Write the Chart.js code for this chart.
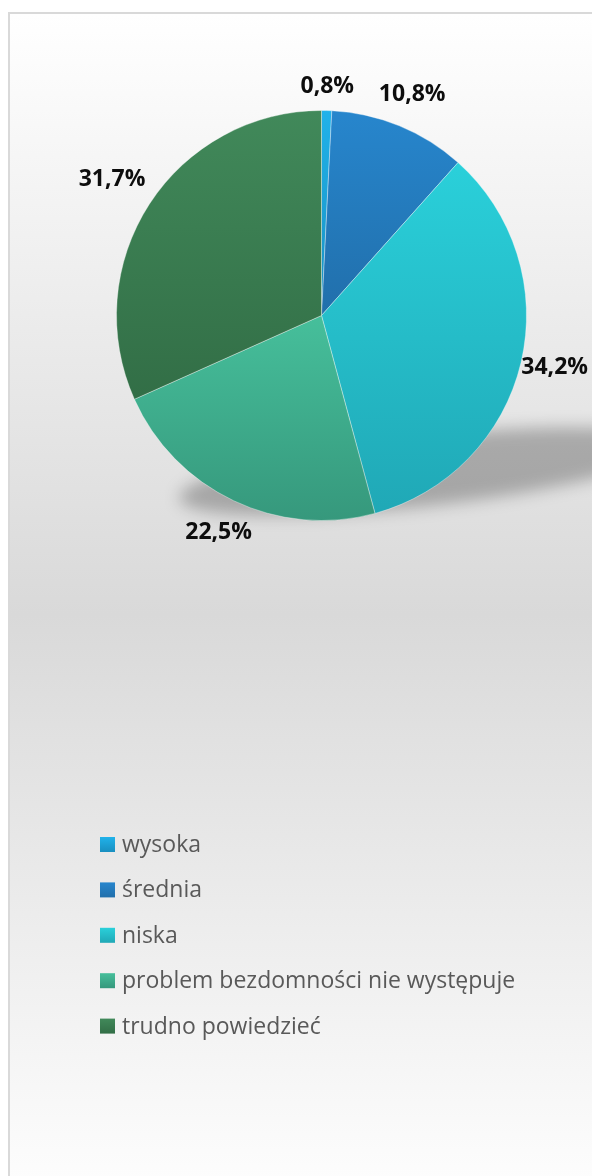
<!DOCTYPE html>
<html>
<head>
<meta charset="utf-8">
<script src="https://cdn.jsdelivr.net/npm/chart.js@4/dist/chart.umd.min.js"></script>
<style>
  html, body { margin: 0; padding: 0; width: 592px; height: 1176px; overflow: hidden; background: #fff; }
  #frame {
    position: absolute; left: 8px; top: 12px; width: 640px; height: 1200px;
    border: 2px solid #d9d9d9;
    background: linear-gradient(to bottom, #ffffff 0%, #d9d9d9 50%, #ffffff 100%);
  }
  #pie { position: absolute; left: 0; top: 0; }
</style>
</head>
<body>
<div id="frame"></div>
<canvas id="pie" width="592" height="1176"></canvas>
<script>
// data
const categories = ['wysoka', 'średnia', 'niska', 'problem bezdomności nie występuje', 'trudno powiedzieć'];
const shares = [0.8, 10.8, 34.2, 22.5, 31.7];

// each slice goes from a lighter top to a darker bottom
const topColors = ['#20b2ea', '#2786cd', '#2ad0da', '#46bf9b', '#41895a'];
const bottomColors = ['#198fc0', '#216fab', '#20a8b6', '#36987c', '#326e46'];

const total = shares.reduce((a, b) => a + b, 0);

// vertical extent of a slice so the gradient covers just that slice
function sliceYRange(i, cy, r) {
    let before = 0;
    for (let k = 0; k < i; k++) before += shares[k];
    const a0 = -Math.PI / 2 + 2 * Math.PI * before / total;
    const a1 = a0 + 2 * Math.PI * shares[i] / total;
    const ys = [cy, cy + r * Math.sin(a0), cy + r * Math.sin(a1)];
    const has = (a) => {
        for (let t = a; t < a1 + 7; t += 2 * Math.PI) if (t >= a0 && t <= a1) return true;
        return false;
    };
    if (has(-Math.PI / 2 - 2 * Math.PI)) ys.push(cy - r);
    if (has(Math.PI / 2 - 2 * Math.PI)) ys.push(cy + r);
    return [Math.min(...ys), Math.max(...ys)];
}

function sliceFill(context) {
    const chart = context.chart;
    const area = chart.chartArea;
    const i = context.dataIndex;
    if (!area || i === undefined) return topColors[i || 0];
    const cy = (area.top + area.bottom) / 2;
    const r = Math.min(area.right - area.left, area.bottom - area.top) / 2;
    const [y0, y1] = sliceYRange(i, cy, r);
    const g = chart.ctx.createLinearGradient(0, y0, 0, y1);
    g.addColorStop(0, topColors[i]);
    g.addColorStop(1, bottomColors[i]);
    return g;
}

// soft ground shadow under the pie
const pieShadow = {
    id: 'pieShadow',
    beforeDatasetsDraw(chart) {
        const arc = chart.getDatasetMeta(0).data[0];
        if (!arc) return;
        const { x, y, outerRadius: r } = arc.getProps(['x', 'y', 'outerRadius'], true);
        const ctx = chart.ctx;
        ctx.save();
        ctx.filter = 'blur(8px)';
        ctx.fillStyle = 'rgba(0,0,0,0.26)';
        ctx.beginPath();
        ctx.ellipse(x + r * 0.5, y + r * 0.76, r * 1.2, r * 0.17, -0.11, 0, Math.PI * 2);
        ctx.fill();
        ctx.restore();
    }
};

// percentage labels outside the slices
const outsideLabels = {
    id: 'outsideLabels',
    afterDatasetsDraw(chart) {
        const ctx = chart.ctx;
        const meta = chart.getDatasetMeta(0);
        ctx.save();
        ctx.font = 'bold 23px "Open Sans"';
        ctx.fillStyle = '#0d0d0d';
        ctx.textAlign = 'center';
        ctx.textBaseline = 'middle';
        meta.data.forEach((arc, i) => {
            const p = arc.getProps(['x', 'y', 'startAngle', 'endAngle', 'outerRadius'], true);
            const mid = (p.startAngle + p.endAngle) / 2;
            const ux = Math.cos(mid), uy = Math.sin(mid);
            const text = shares[i].toFixed(1).replace('.', ',') + '%';
            const w = ctx.measureText(text).width;
            const d = p.outerRadius + 20 + Math.abs(ux) * w * 0.4 + Math.abs(uy) * 4;
            let tx = p.x + ux * d;
            let ty = p.y + uy * d;
            if (tx + w / 2 > chart.width - 4) {
                tx = chart.width - 4 - w / 2;
                ty = p.y + uy * (p.outerRadius + 20);
            }
            ctx.fillText(text, tx, ty);
        });
        ctx.restore();
    }
};

// one legend entry per row, as in the original
const rowLegend = {
    id: 'rowLegend',
    afterDraw(chart, args, opts) {
        const ctx = chart.ctx;
        ctx.save();
        ctx.font = '23px "Open Sans"';
        ctx.textBaseline = 'middle';
        categories.forEach((name, i) => {
            const cy = opts.top + i * opts.step;
            const g = ctx.createLinearGradient(0, cy - 7.5, 0, cy + 7.5);
            g.addColorStop(0, topColors[i]);
            g.addColorStop(1, bottomColors[i]);
            ctx.fillStyle = g;
            ctx.fillRect(opts.left, cy - 7.5, 15, 15);
            ctx.fillStyle = '#595959';
            ctx.fillText(name, opts.left + 22, cy + 1);
        });
        ctx.restore();
    }
};

new Chart(document.getElementById('pie'), {
    type: 'pie',
    data: {
        labels: categories,
        datasets: [{
            data: shares,
            backgroundColor: sliceFill,
            borderColor: 'rgba(255,255,255,0.35)',
            borderWidth: 1
        }]
    },
    options: {
        responsive: false,
        animation: false,
        devicePixelRatio: 1,
        layout: { padding: { left: 116, top: 110, right: 65, bottom: 655 } },
        plugins: {
            legend: { display: false },
            tooltip: { enabled: false },
            rowLegend: { left: 100, top: 844.5, step: 45.4 }
        }
    },
    plugins: [pieShadow, outsideLabels, rowLegend]
});
</script>
</body>
</html>
